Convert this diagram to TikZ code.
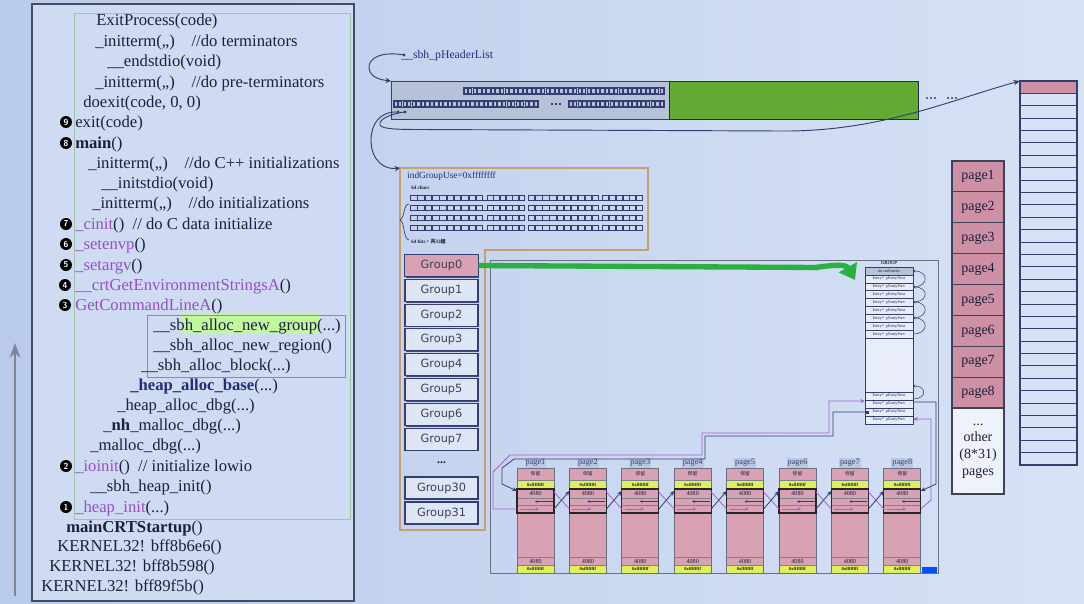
\documentclass[tikz,border=0pt]{standalone}
\usepackage{fontspec}
\setmainfont{Liberation Serif}
\newfontfamily\grpfont{DejaVu Sans}
\newfontfamily\cjkfont{Noto Sans CJK TC}
\usetikzlibrary{arrows.meta,calc,fit,shadows}

\definecolor{bgL}{RGB}{186,202,234}
\definecolor{bgR}{RGB}{214,226,246}
\definecolor{panel}{RGB}{206,219,242}
\definecolor{ink}{RGB}{28,32,58}
\definecolor{purp}{RGB}{150,78,200}
\definecolor{deepblue}{RGB}{34,44,120}
\definecolor{frame}{RGB}{70,76,96}
\definecolor{navy}{RGB}{52,62,112}
\definecolor{pinkc}{RGB}{216,162,180}
\definecolor{pinks}{RGB}{206,144,164}
\definecolor{limec}{RGB}{222,240,92}
\definecolor{grass}{RGB}{98,170,50}
\definecolor{hdrgray}{RGB}{182,194,216}
\definecolor{tanline}{RGB}{198,162,106}
\definecolor{arrowgreen}{RGB}{40,176,64}
\definecolor{boxfill}{RGB}{222,230,246}
\definecolor{lilac}{RGB}{160,100,205}
\definecolor{lblbg}{RGB}{186,200,228}
\definecolor{innerline}{RGB}{160,196,168}

\tikzset{
  code/.style={anchor=base west, inner sep=0pt, text=ink, font=\fontsize{12.5}{14}\selectfont},
  num/.style={circle, fill=black, text=white, inner sep=0pt, minimum size=9pt,
    font=\sffamily\bfseries\fontsize{6.5}{6.5}\selectfont},
  boxfit/.style={inner sep=0pt, outer sep=0pt},
  grpbox/.style={draw=navy, line width=0.8pt, fill=boxfill, minimum width=54.75pt,
    minimum height=16.5pt, inner sep=0pt, font=\grpfont\fontsize{8.5}{8.5}\selectfont,
    text=ink!85, drop shadow={shadow xshift=0.9pt, shadow yshift=-0.9pt, fill=navy, opacity=0.9}},
  pagecell/.style={draw=ink!85, line width=0.8pt, fill=pinks, minimum width=39pt,
    minimum height=23.2pt, inner sep=0pt, font=\fontsize{10.5}{10.5}\selectfont, text=ink},
  tinytext/.style={inner sep=0pt, font=\fontsize{3.1}{3.1}\selectfont, text=ink},
  linkN/.style={draw=navy, line width=0.6pt},
  linkP/.style={draw=lilac, line width=0.6pt},
  tip/.style={-{Stealth[length=3.5pt,width=3pt]}},
}

\begin{document}
\begin{tikzpicture}[x=0.75pt,y=-0.75pt]
\useasboundingbox (0,0) rectangle (1084,603);
\shade[left color=bgL, right color=bgR] (0,0) rectangle (1084,603);

% ---------------- call stack panel ----------------
\draw[frame, line width=1.5pt, fill=panel] (32,4) rectangle (354,601);
\draw[innerline, line width=0.7pt] (74,13) rectangle (350,519);
\fill[green!55!yellow!45, opacity=0.8] (182,314) rectangle (320,334);
\draw[navy!60, line width=0.5pt] (147,315) rectangle (345,377);
\draw[ink!55, line width=2pt, -{Stealth[length=11pt,width=8pt]}] (15,596) -- (15,343);

\node[code] (l1) at (96,25) {ExitProcess(code)};
\node[code] (l2) at (95,46) {\_initterm(,,)\quad//do terminators};
\node[code] (l3) at (107,66) {\_\_endstdio(void)};
\node[code] (l4) at (95,87) {\_initterm(,,)\quad//do pre-terminators};
\node[code] (l5) at (83,107) {doexit(code, 0, 0)};
\node[num] (n9) at (66,122) {9};
\node[code] (l6) at (75,127) {exit(code)};
\node[num] (n8) at (66,143) {8};
\node[code] (l7) at (75,148) {\textbf{main}()};
\node[code] (l8) at (88,168) {\_initterm(,,)\quad//do C++ initializations};
\node[code] (l9) at (101,188) {\_\_initstdio(void)};
\node[code] (l10) at (92,208) {\_initterm(,,)\quad//do initializations};
\node[num] (n7) at (66,224) {7};
\node[code] (l11) at (75,229) {\textcolor{purp}{\_cinit}()\enspace// do C data initialize};
\node[num] (n6) at (66,244) {6};
\node[code] (l12) at (75,249) {\textcolor{purp}{\_setenvp}()};
\node[num] (n5) at (66,265) {5};
\node[code] (l13) at (75,270) {\textcolor{purp}{\_setargv}()};
\node[num] (n4) at (65,285) {4};
\node[code] (l14) at (75,290) {\textcolor{purp}{\_\_crtGetEnvironmentStringsA}()};
\node[num] (n3) at (65,305) {3};
\node[code] (l15) at (75,310) {\textcolor{purp}{GetCommandLineA}()};
\node[code] (l16) at (153,330) {\_\_sbh\_alloc\_new\_group(...)};
\node[code] (l17) at (153,350) {\_\_sbh\_alloc\_new\_region()};
\node[code] (l18) at (141,370) {\_\_sbh\_alloc\_block(...)};
\node[code] (l19) at (130,390) {\textcolor{deepblue}{\textbf{\_heap\_alloc\_base}}(...)};
\node[code] (l20) at (117,410) {\_heap\_alloc\_dbg(...)};
\node[code] (l21) at (103,430) {\_\textbf{nh}\_malloc\_dbg(...)};
\node[code] (l22) at (90,450) {\_malloc\_dbg(...)};
\node[num] (n2) at (66,466) {2};
\node[code] (l23) at (75,471) {\textcolor{purp}{\_ioinit}()\enspace// initialize lowio};
\node[code] (l24) at (90,491) {\_\_sbh\_heap\_init()};
\node[num] (n1) at (66,507) {1};
\node[code] (l25) at (75,512) {\textcolor{purp}{\_heap\_init}(...)};
\node[code] (l26) at (66,532) {\textbf{mainCRTStartup}()};
\node[code] (l27) at (57,551) {KERNEL32! bff8b6e6()};
\node[code] (l28) at (49,571) {KERNEL32! bff8b598()};
\node[code] (l29) at (41,591) {KERNEL32! bff89f5b()};

% ---------------- header list ----------------
\node[fit={(391,81)(669,119)}, boxfit, draw=navy, line width=0.7pt, fill=hdrgray] (hdr) {};
\node[fit={(669,81)(918,119)}, boxfit, draw=navy!70!black, line width=0.7pt, fill=grass] (hdrgreen) {};
\draw[navy, line width=0.4pt] (463,87.5) rectangle (664,94.4);
\foreach \k in {0,...,43} \draw[navy, line width=0.3pt] ({463.7+\k*4.56},88.6) rectangle ++(3.4,4.7);
\draw[navy, line width=0.4pt] (393,100) rectangle (538,106.9);
\foreach \k in {0,...,31} \draw[navy, line width=0.3pt] ({393.7+\k*4.52},101.1) rectangle ++(3.4,4.7);
\draw[navy, line width=0.4pt] (568,100) rectangle (664,106.9);
\foreach \k in {0,...,20} \draw[navy, line width=0.3pt] ({568.7+\k*4.56},101.1) rectangle ++(3.4,4.7);
\foreach \k in {551,555,559} \fill[navy] (\k,102.6) rectangle ++(2.2,2.2);
\foreach \k in {926,930,934,947,951,955} \fill[navy!80] (\k,97) rectangle ++(2.4,2.4);

\node[anchor=west, inner sep=0pt, font=\fontsize{8.8}{9}\selectfont, text=deepblue] (hlabel) at (401,56) {\_\_sbh\_pHeaderList};
\coordinate (hlDot) at (404,55);
\fill[navy] (hlDot) circle[radius=1.3pt];
\draw[navy, line width=0.7pt, -{Stealth[length=4pt,width=4pt]}] (hlDot) .. controls (382,51) and (368,58) .. (369,68)
  .. controls (370,78) and (382,80) .. (hdr.north west);

\coordinate (d1) at (398,112);
\coordinate (d2) at (405,112);
\fill[navy] (d1) circle[radius=1.3pt] (d2) circle[radius=1.3pt];

% ---------------- page descriptor list ----------------
\node[fit={(1020,81)(1077,465)}, boxfit, fill=bgR] (plist) {};
\fill[pinks] (1020,81) rectangle (1077,93.4);
\foreach \k in {1,...,30} \draw[navy, line width=0.7pt] (1020,{81+12.387*\k}) -- (1077,{81+12.387*\k});
\draw[navy, line width=0.8pt] (plist.north west) rectangle (plist.south east);

\draw[navy, line width=0.7pt, -{Stealth[length=5pt,width=4pt]}] (d2) .. controls (393,113) and (378,119) .. (380,125)
  .. controls (382,129) and (396,129.5) .. (420,129.5) -- (780,131)
  .. controls (880,132) and (950,100) .. (plist.north west);

% pages of the region
\foreach \i in {1,...,8}
  \node[pagecell] (pg\i) at (978,{161+30.9*(\i-0.5)}) {page\i};
\node[draw=ink!85, line width=0.8pt, fill=boxfill!50!white, minimum width=39pt, minimum height=64.5pt,
  inner sep=0pt, align=center, font=\fontsize{10.5}{12.4}\selectfont, text=ink] (other) at (978,451)
  {...\\other\\(8*31)\\pages};

% ---------------- group usage bitmap ----------------
\draw[tanline, line width=1.2pt] (400,168) -- (648,168) -- (648,250) -- (485,250) -- (485,530) -- (400,530) -- cycle;
\node[fit={(400,168)(648,250)}, boxfit] (igu) {};
\node[anchor=west, inner sep=0pt, font=\fontsize{7}{7}\selectfont, text=deepblue] (igutext) at (407,176) {indGroupUse=0xffffffff};
\node[anchor=west, inner sep=0pt, font=\bfseries\fontsize{3.8}{4}\selectfont, text=ink] (chars) at (411,188) {64 chars};
\node[anchor=west, inner sep=0pt, font=\bfseries\fontsize{3.8}{4}\selectfont, text=ink] (bits) at (411,242) {64 bits{\cjkfont ，共}32{\cjkfont 組}};
\foreach \a/\b/\n in {410/483/10, 487/525/6, 528/599/10, 602/643/6} {
  \foreach \r in {198,208,218,228} {
    \foreach \k in {1,...,\n} {
      \draw[navy, line width=0.45pt] ({\a+(\k-1)*(\b-\a)/\n+0.4}, {\r-2.6}) rectangle ++({(\b-\a)/\n-0.8}, 5.2);
    }
  }
}
\foreach \r in {198,208,218,228} {
  \draw[navy, line width=0.45pt] (483,{\r+2.4}) -- (487,{\r+2.4});
  \draw[navy, line width=0.45pt] (599,{\r+2.4}) -- (602,{\r+2.4});
}
\draw[navy, line width=0.5pt] (409,204) .. controls (403,204) and (405,218) .. (400,220)
  .. controls (405,222) and (403,239) .. (409,240);

\draw[navy, line width=0.7pt, -{Stealth[length=4pt,width=4pt]}] (d1) .. controls (380,111) and (371,124) .. (371,140)
  .. controls (371,160) and (384,170) .. (igu.north west);

% ---------------- groups ----------------
\foreach \i in {0,...,7}
  \node[grpbox] (g\i) at (441.5,{265.5+24.8*\i}) {Group\i};
\fill[pinkc] ($(g0.north west)+(0.6,0.6)$) rectangle ($(g0.south east)+(-0.6,-0.6)$);
\node[inner sep=0pt, font=\grpfont\fontsize{8.5}{8.5}\selectfont, text=ink!85] at (g0) {Group0};
\node[inner sep=0pt, font=\bfseries\fontsize{9}{9}\selectfont, text=ink] (gdots) at (441.5,463) {...};
\node[grpbox] (g30) at (441.5,488) {Group30};
\node[grpbox] (g31) at (441.5,513) {Group31};

% ---------------- region area ----------------
\draw[frame!80, line width=0.6pt] (490,260) rectangle (938,573);
\fill[blue!70!cyan] (922,567) rectangle (937,573);

% the GROUP structure
\node[fit={(865,267)(913,424)}, boxfit, fill=boxfill!70!white] (grp) {};
\fill[hdrgray] (865,267) rectangle (913,275);
\foreach \k in {0,...,8} \draw[navy, line width=0.5pt] (865,{275+7.9*\k}) -- (913,{275+7.9*\k});
\foreach \k in {392,400,408,416} \draw[navy, line width=0.5pt] (865,\k) -- (913,\k);
\draw[navy, line width=0.7pt] (grp.north west) rectangle (grp.south east);
\node[tinytext, font=\bfseries\fontsize{3.4}{3.4}\selectfont] (grplabel) at (889,263) {GROUP};
\node[tinytext] at (889,271) {int cntEntries};
\foreach \k in {0,2,4,6} \node[tinytext] at (889,{279+7.9*\k}) {Entry*\ \ pEntryNext};
\foreach \k in {1,3,5,7} \node[tinytext] at (889,{279+7.9*\k}) {Entry*\ \ pEntryPrev};
\foreach \y/\t in {396/Next,404/Prev,412/Next,420/Prev} \node[tinytext] at (889,\y) {Entry*\ \ pEntry\t};
\foreach \a/\b in {271/287, 287/302, 302/318, 318/334}
  \draw[navy, line width=0.4pt, -{Stealth[length=2pt,width=2pt]}] (913,\b) .. controls (929,\b) and (929,\a) .. (913,\a);
\draw[navy, line width=0.4pt, -{Stealth[length=2pt,width=2pt]}] (913,399) .. controls (927,399) and (927,386) .. (913,386);

\coordinate (gA) at ($(grp.north west)+(0,134)$);
\coordinate (gB) at ($(grp.north west)+(0,145)$);
\coordinate (gC) at ($(grp.north east)+(0,135)$);
\coordinate (gD) at ($(grp.north east)+(0,152)$);
\fill[navy] ($(gB)+(1,-1.5)$) rectangle ++(3,3);

% green pointer from the used group to its GROUP record
\draw[arrowgreen, line width=4pt] (g0.east) -- (818,267.5);
\draw[arrowgreen, line width=4pt, -{Triangle[length=11pt,width=15pt]}] (816,267.5)
  .. controls (832,265) and (846,264) .. (855,280);

% pages of the region in memory
\foreach \i in {1,...,8} {
  \pgfmathsetmacro{\x}{517+52.4*(\i-1)}
  \node[fill=lblbg, inner sep=0.8pt, font=\fontsize{6.2}{6.2}\selectfont, text=navy] (plab\i) at (\x+18.5,463) {page\i};
  \node[fit={(\x,468)(\x+37,573)}, boxfit, fill=pinkc] (col\i) {};
  \fill[limec] (\x,480) rectangle (\x+37,489);
  \fill[limec] (\x,565) rectangle (\x+37,573);
  \foreach \yy in {480,498,505,513,557,565}
    \draw[frame!70, line width=0.45pt] (\x,\yy) -- (\x+37,\yy);
  \draw[frame!80, line width=0.6pt] (col\i.north west) rectangle (col\i.south east);
  \draw[black!85, line width=0.9pt] (\x,489) rectangle (\x+37,513);
  \node[tinytext, font=\cjkfont\fontsize{3.6}{3.6}\selectfont] at (\x+18.5,474) {保留};
  \node[tinytext, font=\bfseries\fontsize{3.4}{3.4}\selectfont] at (\x+18.5,484.5) {0xffffffff};
  \node[tinytext, font=\fontsize{4.6}{4.6}\selectfont] at (\x+18.5,493.5) {4080};
  \node[tinytext, font=\fontsize{4.6}{4.6}\selectfont] at (\x+18.5,561) {4080};
  \node[tinytext, font=\bfseries\fontsize{3.4}{3.4}\selectfont] at (\x+18.5,569) {0xffffffff};
  \draw[navy, line width=0.5pt, -{Stealth[length=2pt,width=2pt]}] (\x+36,501.5) -- (\x+18,501.5);
  \draw[lilac, line width=0.7pt, -{Stealth[length=2.5pt,width=2.5pt]}] (\x+3,509) -- (\x+22,509);
}
\foreach \i in {1,...,7} {
  \pgfmathtruncatemacro{\j}{\i+1}
  \draw[linkP] ($(col\i.north east)+(0,24)$) -- ($(col\j.north west)+(0,41)$);
  \draw[linkN, tip] ($(col\i.north east)+(0,41)$) -- ($(col\j.north west)+(0,23)$);
}

% links between the GROUP list heads and the first / last page
\draw[linkP, tip] ($(col1.north west)+(0,41)$) -- (493,509) -- (493,472) -- (510,455) -- (702,455)
  -- (702,433) -- (829,433) -- (829,401) -- (gA);
\draw[linkN, tip] (gB) -- (833,412) -- (833,436) -- (705,436) -- (705,459) -- (514,459) -- (502,468)
  -- (502,484) -- ($(col1.north west)+(0,23)$);
\draw[linkN, tip] (gC) -- (936,402) -- (936,484) -- ($(col8.north east)+(0,23)$);
\draw[linkP, tip] ($(col8.north east)+(0,41)$) -- (931,500) -- (931,419) -- (gD);

\end{tikzpicture}
\end{document}
